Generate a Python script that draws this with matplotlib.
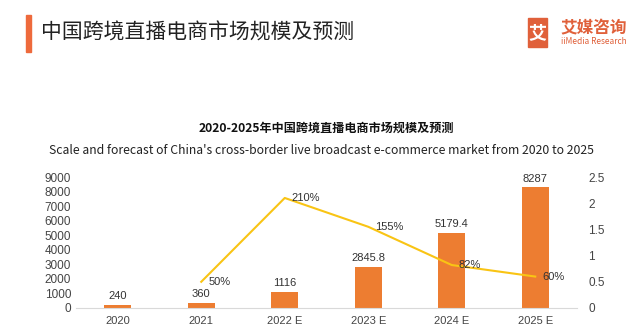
import matplotlib.pyplot as plt
from matplotlib.patches import Rectangle

plt.rcParams['font.family'] = ['Liberation Sans', 'Noto Sans CJK SC', 'DejaVu Sans']

years = ['2020', '2021', '2022 E', '2023 E', '2024 E', '2025 E']
scale = [240, 360, 1116, 2845.8, 5179.4, 8287]
scale_labels = ['240', '360', '1116', '2845.8', '5179.4', '8287']
growth_years = ['2021', '2022 E', '2023 E', '2024 E', '2025 E']
growth = [0.50, 2.10, 1.55, 0.82, 0.60]
growth_labels = ['50%', '210%', '155%', '82%', '60%']

bar_color = '#ED7D31'
line_color = '#F9C414'
cjk = ['Noto Sans CJK SC', 'DejaVu Sans']

fig = plt.figure(figsize=(6.4, 3.33), dpi=100)

# header
fig.patches.append(Rectangle((26 / 640, 1 - 52 / 333), 5 / 640, 37 / 333,
                             transform=fig.transFigure, color='#EE6A3C'))
fig.text(41 / 640, 1 - 33 / 333, '中国跨境直播电商市场规模及预测', fontsize=15,
         family=cjk, va='center', ha='left', color='#222222')

# logo
fig.patches.append(Rectangle((528 / 640, 1 - 47 / 333), 19 / 640, 29 / 333,
                             transform=fig.transFigure, color='#E0603A'))
fig.text(537.5 / 640, 1 - 32.5 / 333, '艾', fontsize=13, family=cjk, weight='bold',
         color='white', ha='center', va='center')
fig.text(594 / 640, 1 - 28 / 333, '艾媒咨询', fontsize=12, family=cjk, weight='bold',
         color='#E0603A', ha='center', va='center')
fig.text(594 / 640, 1 - 42 / 333, 'iiMedia Research', fontsize=6, family=cjk,
         color='#E0603A', ha='center', va='center')

# chart titles
fig.text(326 / 640, 1 - 128 / 333, '2020-2025年中国跨境直播电商市场规模及预测',
         fontsize=8.7, family=cjk, weight='bold', ha='center', va='center', color='#111111')
fig.text(321 / 640, 1 - 150 / 333,
         "Scale and forecast of China's cross-border live broadcast e-commerce market from 2020 to 2025",
         fontsize=8.8, family=cjk, ha='center', va='center', color='#222222')

ax = fig.add_axes([76 / 640, 1 - 308 / 333, 501 / 640, 131 / 333])
x = list(range(len(years)))
ax.bar(x, scale, width=0.32, color=bar_color, zorder=2)
for xi, v, lab in zip(x, scale, scale_labels):
    ax.text(xi, v + 250, lab, ha='center', va='bottom', fontsize=8, color='#333333')

ax.set_xlim(-0.5, len(years) - 0.5)
ax.set_ylim(0, 9000)
ax.set_yticks(range(0, 9001, 1000))
ax.set_xticks(x)
ax.set_xticklabels(years)
for s in ['top', 'right', 'left']:
    ax.spines[s].set_visible(False)
ax.spines['bottom'].set_color('#D9D9D9')
ax.tick_params(axis='both', length=0, labelsize=8.5, colors='#444444')
ax.tick_params(axis='x', labelsize=8, pad=6)

ax2 = ax.twinx()
gx = [years.index(g) for g in growth_years]
ax2.plot(gx, growth, color=line_color, linewidth=1.5, zorder=3)
ax2.set_ylim(0, 2.5)
ax2.set_yticks([0, 0.5, 1, 1.5, 2, 2.5])
ax2.set_yticklabels(['0', '0.5', '1', '1.5', '2', '2.5'])
for s in ['top', 'right', 'left', 'bottom']:
    ax2.spines[s].set_visible(False)
ax2.tick_params(axis='y', length=0, labelsize=8.5, colors='#444444', pad=8)

for xi, v, lab in zip(gx, growth, growth_labels):
    ax2.text(xi + 0.085, v, lab, ha='left', va='center', fontsize=8, color='#333333')

fig.savefig('out.png', dpi=100)
